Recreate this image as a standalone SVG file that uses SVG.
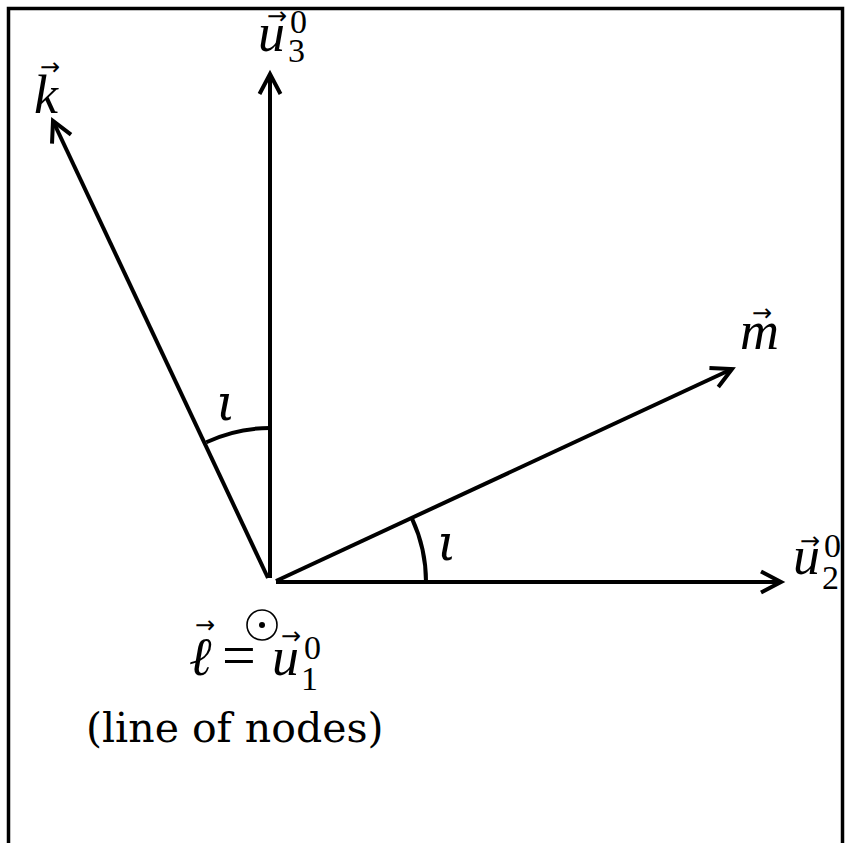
<svg xmlns="http://www.w3.org/2000/svg" width="845" height="843" viewBox="0 0 845 843">
<style>
.frame{fill:none;stroke:#000;stroke-width:3.5}
.vec{fill:none;stroke:#000;stroke-width:4;marker-end:url(#tip)}
.arc{fill:none;stroke:#000;stroke-width:4}
.m{font-family:"Liberation Serif",serif;font-style:italic;font-size:54px;fill:#000}
.s{font-family:"Liberation Serif",serif;font-size:34px;fill:#000}
.acc{font-family:"DejaVu Sans",sans-serif;font-size:24px;fill:#000;text-anchor:middle}
.gr{font-family:"DejaVu Serif",serif;font-style:italic;font-size:50px;fill:#000}
.txt{font-family:"DejaVu Serif",serif;font-size:41px;fill:#000}
.eq{font-family:"Liberation Serif",serif;font-size:60px;fill:#000}
.odot{fill:none;stroke:#000;stroke-width:1.6}
</style>
<defs>
<marker id="tip" markerUnits="userSpaceOnUse" viewBox="-24 -14 28 28" refX="0" refY="0" markerWidth="28" markerHeight="28" orient="auto" overflow="visible">
<path d="M-20,-10.5 L0,0 L-20,10.5" fill="none" stroke="#000" stroke-width="4"/>
</marker>
</defs>
<rect class="frame" x="8.5" y="8.5" width="834" height="860"/>
<g id="connectors">
<path class="vec" d="M270,578 L270,74"/>
<path class="vec" d="M268,578 L53,121"/>
<path class="vec" d="M276,581 L732,369"/>
<path class="vec" d="M276,582 L781,582"/>
<path id="arc-upper" class="arc" d="M206.3,442.2 A150,150 0 0 1 270,428"/>
<path id="arc-lower" class="arc" d="M412,518.7 A150,150 0 0 1 426,582"/>
</g>
<g id="u3">
<text class="acc" x="277" y="24">→</text>
<text class="m" x="258" y="51">u</text>
<text class="s" x="288" y="62">3</text>
<text class="s" x="290" y="33">0</text>
</g>
<g id="k">
<text class="acc" x="50" y="75">→</text>
<text class="m" x="34" y="113">k</text>
</g>
<g id="m">
<text class="acc" x="762" y="321">→</text>
<text class="m" x="740" y="349">m</text>
</g>
<g id="u2">
<text class="acc" x="810" y="549">→</text>
<text class="m" x="793" y="574">u</text>
<text class="s" x="822" y="589">2</text>
<text class="s" x="824" y="557">0</text>
</g>
<g id="iota-upper"><text class="gr" x="216" y="420">ι</text></g>
<g id="iota-lower"><text class="gr" x="437" y="560">ι</text></g>
<g id="l">
<g id="odot"><circle class="odot" cx="262" cy="625" r="15"/><circle cx="262" cy="625" r="3" fill="#000"/></g>
<text class="acc" x="205" y="633">→</text>
<text class="m" x="189" y="675">ℓ</text>
<text class="eq" x="222" y="675">=</text>
<text class="acc" x="291" y="644">→</text>
<text class="m" x="272" y="675">u</text>
<text class="s" x="301" y="690">1</text>
<text class="s" x="304" y="659">0</text>
<text class="txt" x="86" y="742">(line of nodes)</text>
</g>
</svg>
